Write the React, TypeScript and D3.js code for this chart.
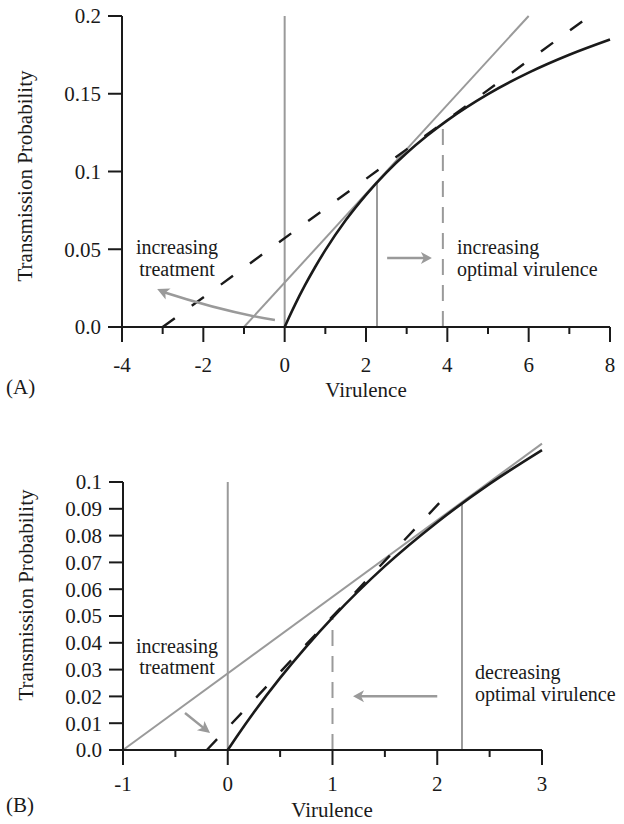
import React from "react";
import * as d3 from "d3";

// Black transmission curve (virulence -> transmission probability)
const curveVirulence = [0, 0.1, 0.25, 0.5, 0.75, 1, 1.5, 2, 2.5, 3, 3.5, 4, 5, 6, 7, 8];
const curveProb = [0, 0.0058, 0.0141, 0.0269, 0.0386, 0.0494, 0.0686, 0.085, 0.0993, 0.1119, 0.123, 0.1329, 0.1498, 0.1636, 0.1751, 0.1849];

// Panel A lines
const aGrayTangent = [[-1, 0], [6, 0.2]];
const aDashTangent = [[-3, 0], [7.5, 0.2]];
const aOptimalOld = [2.27, 0.0933];
const aOptimalNew = [3.89, 0.1315];
const aXTicksMajor = [-4, -2, 0, 2, 4, 6, 8];
const aXTicksMinor = [-3, -1, 1, 3, 5, 7];
const aYTicks = [0, 0.05, 0.1, 0.15, 0.2];
const aYLabels = ["0.0", "0.05", "0.1", "0.15", "0.2"];

// Panel B lines
const bGrayTangent = [[-1, 0], [3, 0.1143]];
const bDashTangent = [[-0.2, 0], [2.1, 0.0955]];
const bOptimalOld = [2.236, 0.0922];
const bOptimalNew = [1.0, 0.0494];
const bXTicksMajor = [-1, 0, 1, 2, 3];
const bXTicksMinor = [-0.5, 0.5, 1.5, 2.5];
const bYTicks = [0, 0.01, 0.02, 0.03, 0.04, 0.05, 0.06, 0.07, 0.08, 0.09, 0.1];
const bYLabels = ["0.0", "0.01", "0.02", "0.03", "0.04", "0.05", "0.06", "0.07", "0.08", "0.09", "0.1"];

const GRAY = "#9a9a9a";
const INK = "#1a1a1a";
const FONT = "'Liberation Serif', 'Times New Roman', serif";
const FS = 21;
const FS_NOTE = 20;

function Arrowhead({ tip, from, len = 11, half = 5.5 }) {
  const dx = tip[0] - from[0];
  const dy = tip[1] - from[1];
  const L = Math.hypot(dx, dy);
  const ux = dx / L, uy = dy / L;
  const bx = tip[0] - ux * len, by = tip[1] - uy * len;
  const pts = [
    [tip[0], tip[1]],
    [bx - uy * half, by + ux * half],
    [bx + ux * 3, by + uy * 3],
    [bx + uy * half, by - ux * half],
  ];
  return <polygon points={pts.map((p) => p.join(",")).join(" ")} fill={GRAY} />;
}

function Panel({ x, y, xTicksMajor, xTicksMinor, yTicks, yLabels, xMax, gray, dash, optOld, optNew, vTop, dashArr }) {
  const pts = curveVirulence
    .map((v, i) => [v, curveProb[i]])
    .filter((p) => p[0] <= xMax + 1e-9);
  const line = d3.line().x((d) => x(d[0])).y((d) => y(d[1])).curve(d3.curveMonotoneX);
  const y0 = y(0);
  const x0 = x.range()[0];
  return (
    <g>
      <line x1={x(0)} x2={x(0)} y1={y0} y2={y(vTop)} stroke={GRAY} strokeWidth={2} />
      <line x1={x(optOld[0])} x2={x(optOld[0])} y1={y0} y2={y(optOld[1])} stroke={GRAY} strokeWidth={2} />
      <line x1={x(optNew[0])} x2={x(optNew[0])} y1={y0} y2={y(optNew[1])} stroke={GRAY} strokeWidth={2} strokeDasharray="16,10" />
      <line x1={x(gray[0][0])} y1={y(gray[0][1])} x2={x(gray[1][0])} y2={y(gray[1][1])} stroke={GRAY} strokeWidth={2} />
      <path d={line(pts)} fill="none" stroke={INK} strokeWidth={2.6} />
      <line x1={x(dash[0][0])} y1={y(dash[0][1])} x2={x(dash[1][0])} y2={y(dash[1][1])} stroke={INK} strokeWidth={2.4} strokeDasharray={dashArr} />
      <line x1={x0 - 14} x2={x.range()[1]} y1={y0} y2={y0} stroke={INK} strokeWidth={2} />
      <line x1={x0} x2={x0} y1={y(yTicks[yTicks.length - 1])} y2={y0} stroke={INK} strokeWidth={2} />
      {xTicksMajor.map((t) => (
        <line key={"M" + t} x1={x(t)} x2={x(t)} y1={y0} y2={y0 + 15} stroke={INK} strokeWidth={2} />
      ))}
      {xTicksMinor.map((t) => (
        <line key={"m" + t} x1={x(t)} x2={x(t)} y1={y0} y2={y0 + 7} stroke={INK} strokeWidth={2} />
      ))}
      {yTicks.map((t) => (
        <line key={"y" + t} x1={x0 - 14} x2={x0} y1={y(t)} y2={y(t)} stroke={INK} strokeWidth={2} />
      ))}
      {yTicks.map((t, i) => (
        <text key={"yl" + t} x={x0 - 21} y={y(t)} dy="0.35em" textAnchor="end" fontFamily={FONT} fontSize={FS} fill={INK}>
          {yLabels[i]}
        </text>
      ))}
    </g>
  );
}

export default function App() {
  const xA = d3.scaleLinear().domain([-4, 8]).range([122, 610]);
  const yA = d3.scaleLinear().domain([0, 0.2]).range([327, 16]);
  const xB = d3.scaleLinear().domain([-1, 3]).range([123, 542]);
  const yB = d3.scaleLinear().domain([0, 0.1]).range([750, 482]);

  const aArrStart = [xA(-0.24), yA(0.0045)];
  const aArrCtrl = [xA(-1.47), yA(0.0096)];
  const aArrEnd = [xA(-3.135), yA(0.0244)];
  const aRightFrom = [xA(2.52), yA(0.0444)];
  const aRightTo = [xA(3.62), yA(0.0444)];
  const bTreatFrom = [xB(-0.408), yB(0.0138)];
  const bTreatTo = [xB(-0.169), yB(0.0063)];
  const bLeftFrom = [xB(2.0), yB(0.0201)];
  const bLeftTo = [xB(1.196), yB(0.0201)];

  const txt = { fontFamily: FONT, fontSize: FS, fill: INK };
  const note = { fontFamily: FONT, fontSize: FS_NOTE, fill: INK };

  return (
    <svg width={624} height={824} style={{ position: "absolute", left: 0, top: 0, background: "#fff" }}>
      <rect width={624} height={824} fill="#fff" />
      <Panel
        x={xA} y={yA}
        xTicksMajor={aXTicksMajor} xTicksMinor={aXTicksMinor}
        yTicks={aYTicks} yLabels={aYLabels}
        xMax={8} gray={aGrayTangent} dash={aDashTangent}
        optOld={aOptimalOld} optNew={aOptimalNew} vTop={0.2} dashArr="15,21"
      />
      {aXTicksMajor.map((t) => (
        <text key={"ax" + t} x={xA(t)} y={372} textAnchor="middle" {...txt}>{t}</text>
      ))}
      <text x={366} y={397} textAnchor="middle" {...txt}>Virulence</text>
      <text transform="translate(32,176) rotate(-90)" textAnchor="middle" {...txt}>Transmission Probability</text>
      <text x={6} y={394} {...txt}>(A)</text>
      <text x={177} y={254} textAnchor="middle" {...note}>increasing</text>
      <text x={177} y={276} textAnchor="middle" {...note}>treatment</text>
      <text x={457} y={254} {...note}>increasing</text>
      <text x={457} y={276} {...note}>optimal virulence</text>
      <path
        d={`M${aArrStart[0]},${aArrStart[1]} Q${aArrCtrl[0]},${aArrCtrl[1]} ${aArrEnd[0] + 6},${aArrEnd[1] + 3}`}
        fill="none" stroke={GRAY} strokeWidth={2.5}
      />
      <Arrowhead tip={aArrEnd} from={[aArrEnd[0] + 20, aArrEnd[1] + 9]} len={12} half={6} />
      <line x1={aRightFrom[0]} y1={aRightFrom[1]} x2={aRightTo[0] - 6} y2={aRightTo[1]} stroke={GRAY} strokeWidth={2.5} />
      <Arrowhead tip={aRightTo} from={aRightFrom} len={11} half={6} />

      <Panel
        x={xB} y={yB}
        xTicksMajor={bXTicksMajor} xTicksMinor={bXTicksMinor}
        yTicks={bYTicks} yLabels={bYLabels}
        xMax={3} gray={bGrayTangent} dash={bDashTangent}
        optOld={bOptimalOld} optNew={bOptimalNew} vTop={0.1} dashArr="15,21"
      />
      {bXTicksMajor.map((t) => (
        <text key={"bx" + t} x={xB(t)} y={791} textAnchor="middle" {...txt}>{t}</text>
      ))}
      <text x={332} y={817} textAnchor="middle" {...txt}>Virulence</text>
      <text transform="translate(33,595) rotate(-90)" textAnchor="middle" {...txt}>Transmission Probability</text>
      <text x={6} y={812} {...txt}>(B)</text>
      <text x={177} y={653} textAnchor="middle" {...note}>increasing</text>
      <text x={177} y={674} textAnchor="middle" {...note}>treatment</text>
      <text x={475} y={679} {...note}>decreasing</text>
      <text x={475} y={701} {...note}>optimal virulence</text>
      <line x1={bTreatFrom[0]} y1={bTreatFrom[1]} x2={bTreatTo[0] - 5} y2={bTreatTo[1] - 4} stroke={GRAY} strokeWidth={2.5} />
      <Arrowhead tip={bTreatTo} from={bTreatFrom} len={12} half={6} />
      <line x1={bLeftFrom[0]} y1={bLeftFrom[1]} x2={bLeftTo[0] + 6} y2={bLeftTo[1]} stroke={GRAY} strokeWidth={2.5} />
      <Arrowhead tip={bLeftTo} from={bLeftFrom} len={11} half={6} />
    </svg>
  );
}
